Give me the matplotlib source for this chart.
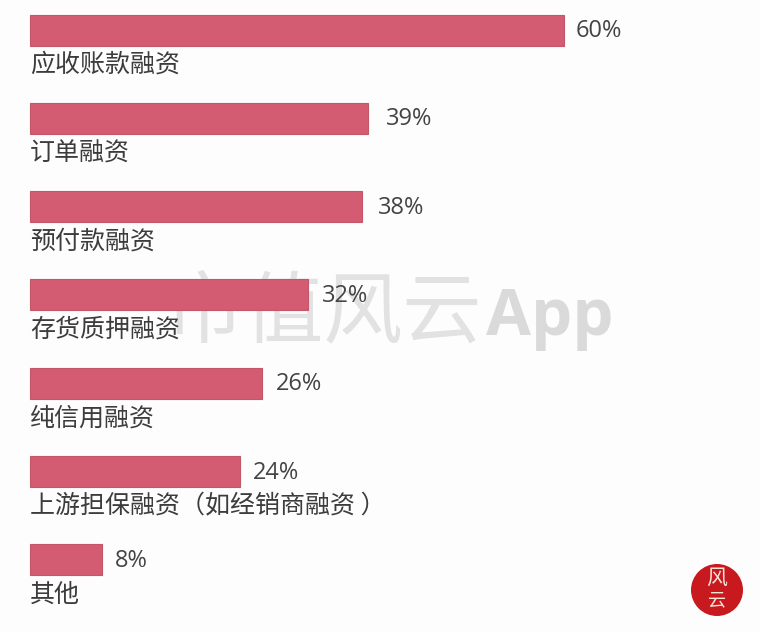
import matplotlib
matplotlib.use("Agg")
from matplotlib import pyplot as plt
from matplotlib.patches import Circle
from matplotlib.transforms import offset_copy

plt.rcParams["font.family"] = ["Noto Sans CJK SC", "DejaVu Sans"]

categories = [
    "应收账款融资",
    "订单融资",
    "预付款融资",
    "存货质押融资",
    "纯信用融资",
    "上游担保融资（如经销商融资 ）",
    "其他",
]
# drawn bar lengths differ a little from the printed labels in the picture
bar_lengths = [60, 38, 37.3, 31.2, 26.1, 23.6, 8.1]
value_labels = ["60%", "39%", "38%", "32%", "26%", "24%", "8%"]
label_gaps = [12, 18, 16, 14, 14, 13, 13]

W, H = 760, 632
PX_PER_UNIT = 8.9
ROW_PX = 88.33


def main() -> None:
    fig = plt.figure(figsize=(W / 100, H / 100), dpi=100, facecolor="#fdfdfd")
    ax = fig.add_axes([0, 0, 1, 1])
    ax.set_xlim(-30 / PX_PER_UNIT, (W - 30) / PX_PER_UNIT)
    ax.set_ylim(6 + 72 / ROW_PX, -30 / ROW_PX)
    ax.axis("off")

    # watermark, sits under the bars
    ax.text(165 / W, 1 - 336 / H, "市值风云", transform=fig.transFigure, fontsize=57,
            color="#e2e2e2", fontweight="light", zorder=1, va="baseline")
    ax.text(486 / W, 1 - 335 / H, "App", transform=fig.transFigure, fontsize=47,
            color="#dadada", family=["Open Sans", "DejaVu Sans"], fontweight="bold",
            zorder=1, va="baseline")

    ypos = list(range(len(categories)))
    ax.barh(ypos, bar_lengths, height=31 / ROW_PX, color="#d35b72",
            edgecolor="#c4566a", linewidth=0.8, zorder=2)

    for y, length, cat, lab, gap in zip(ypos, bar_lengths, categories, value_labels, label_gaps):
        tr_cat = offset_copy(ax.transData, fig=fig, x=0, y=-35, units="dots")
        ax.text(0, y, cat, transform=tr_cat, fontsize=18, color="#3c3c3c",
                va="center", ha="left", zorder=3)
        tr_val = offset_copy(ax.transData, fig=fig, x=gap, y=-1, units="dots")
        ax.text(length, y, lab, transform=tr_val, fontsize=17, color="#444444",
                family=["Open Sans", "DejaVu Sans"], va="center", ha="left", zorder=3)

    # red seal, bottom right
    seal_x, seal_y = 717 / 100, (H - 590) / 100
    fig.add_artist(Circle((seal_x, seal_y), 0.26, transform=fig.dpi_scale_trans,
                          facecolor="#c8191f", edgecolor="none", zorder=4))
    fig.text(717 / W, 1 - 578 / H, "风", fontsize=15, color="#f6e3d8", ha="center", va="center", zorder=5)
    fig.text(717 / W, 1 - 600 / H, "云", fontsize=13, color="#f6e3d8", ha="center", va="center", zorder=5)

    fig.savefig("out.png", dpi=100, facecolor=fig.get_facecolor())
    plt.close(fig)


if __name__ == "__main__":
    main()
